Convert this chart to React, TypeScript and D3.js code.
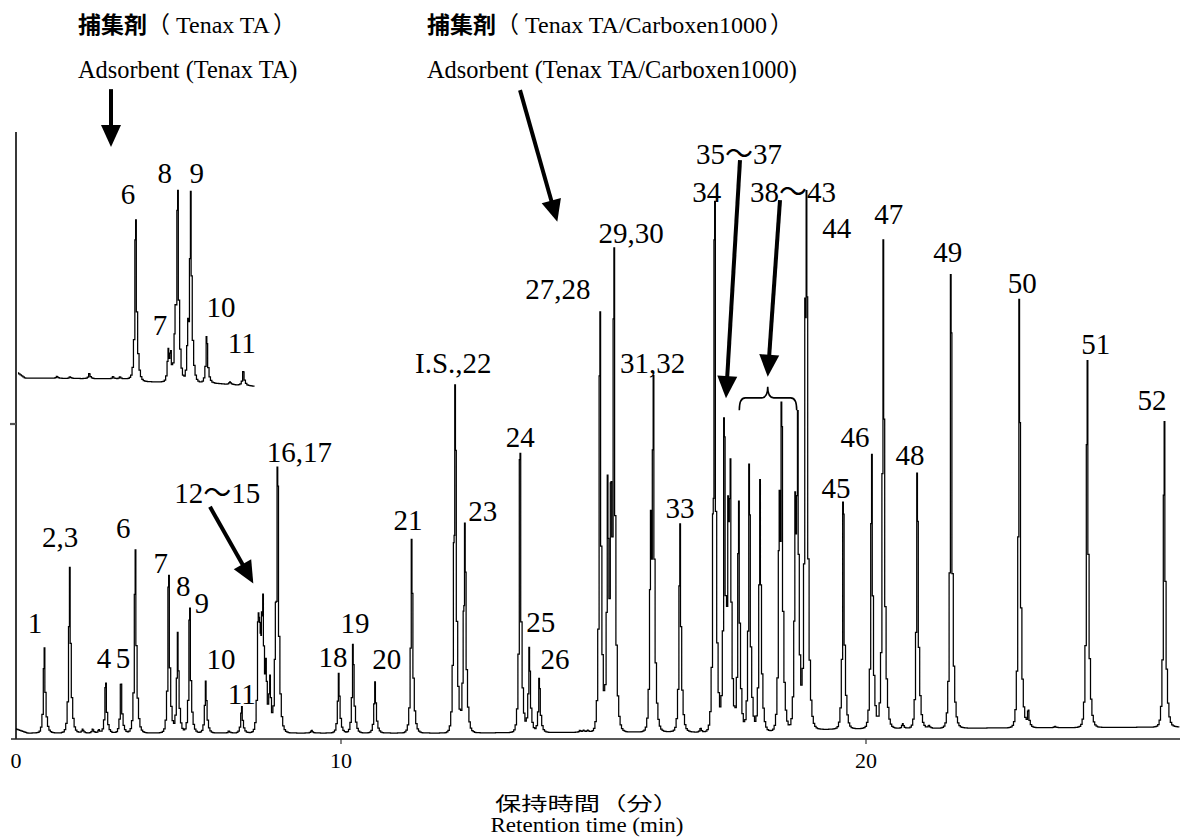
import React from "react";
import * as d3 from "d3";

const W = 1180;
const H = 838;

// axis ticks
const xTickValues = [0, 10, 20];
const xTickLabels = ["0", "10", "20"];
const yTickValues = [1];

// main chromatogram (Tenax TA/Carboxen1000): baseline knots [time(min), signal]
const mainBaseline: [number, number][] = [
  [0, 0.032], [0.35, 0.019], [12, 0.019], [16.5, 0.023], [17.5, 0.018],
  [19, 0.03], [20, 0.033], [26, 0.038],
];

// main peaks [retention time (min), height above baseline]
const mainPeaks: [number, number][] = [
  [0.871, 0.27], [1.652, 0.526], [2.76, 0.158], [3.231, 0.155], [3.671, 0.581],
  [4.698, 0.5], [4.975, 0.317], [5.345, 0.396], [5.837, 0.165], [6.945, 0.084],
  [7.455, 0.3], [7.492, 0.17], [7.53, 0.08], [7.565, 0.17], [7.6, 0.3], [7.692, 0.17], [7.815, 0.16],
  [7.99, 0.28], [8.052, 0.77],
  [9.098, 0.008], [9.929, 0.189], [10.229, 0.281], [10.648, 0.162], [11.347, 0.615],
  [12.152, 0.3], [12.177, 0.98], [12.337, 0.2], [12.362, 0.58],
  [13.41, 0.886], [13.587, 0.267], [13.777, 0.171],
  [14.933, 1.332], [15.08, 0.76], [15.143, 0.6], [15.2, 1.44],
  [15.899, 0.6], [15.949, 1.026], [16.457, 0.66],
  [17.091, 0.3], [17.118, 1.57],
  [17.301, 0.97], [17.377, 0.56], [17.415, 0.7], [17.575, 0.73],
  [17.777, 0.85], [17.981, 0.8], [18.349, 0.65], [18.394, 0.91], [18.653, 0.65], [18.699, 0.88],
  [18.844, 0.97], [18.87, 1.32],
  [19.568, 0.72], [20.109, 0.87], [20.33, 1.55], [20.977, 0.81], [21.619, 1.44],
  [22.92, 1.36], [23.091, 0.05], [24.215, 1.165], [25.682, 0.97],
  [2.05, 0.012], [2.36, 0.012], [2.55, 0.01], [6.55, 0.006], [14.55, 0.006],
  [14.62, 0.006], [14.7, 0.006], [16.85, 0.012], [20.7, 0.015], [21.2, 0.008], [23.6, 0.004],
];

// inset chromatogram (Tenax TA)
const insetBaseline: [number, number][] = [
  [0.06, 1.162], [0.28, 1.146], [3.5, 1.143], [3.8, 1.135], [4.6, 1.133], [6.0, 1.13], [7.35, 1.12],
];
const insetPeaks: [number, number][] = [
  [3.683, 0.51], [4.686, 0.097], [4.76, 0.075], [4.902, 0.17], [4.975, 0.573],
  [5.292, 0.147], [5.375, 0.582], [5.868, 0.147], [6.994, 0.044], [2.255, 0.016],
  [1.26, 0.006], [1.66, 0.005], [2.985, 0.007], [3.2, 0.006], [6.585, 0.008],
];

// peak labels [text, time, signal at text baseline]
const peakLabels: [string, number, number][] = [
  ["1", 0.585, 0.337], ["2,3", 1.354, 0.611], ["4", 2.708, 0.224], ["5", 3.292, 0.224],
  ["6", 3.302, 0.637], ["7", 4.452, 0.526], ["8", 5.148, 0.454], ["9", 5.714, 0.399],
  ["10", 6.308, 0.221], ["11", 6.945, 0.111], ["12～15", 6.194, 0.75], ["16,17", 8.723, 0.88],
  ["18", 9.754, 0.229], ["19", 10.267, 0.335], ["20", 10.87, 0.222], ["21", 11.276, 0.664],
  ["I.S.,22", 12.139, 1.163], ["23", 12.699, 0.693], ["24", 13.415, 0.928], ["25", 13.804, 0.341],
  ["26", 14.076, 0.222], ["27,28", 14.133, 1.396], ["29,30", 15.524, 1.575], ["31,32", 15.937, 1.163],
  ["33", 16.457, 0.703], ["34", 16.966, 1.706], ["35～37", 17.581, 1.825], ["38～43", 18.61, 1.706],
  ["44", 19.442, 1.59], ["45", 19.429, 0.764], ["46", 19.79, 0.928], ["47", 20.432, 1.634],
  ["48", 20.838, 0.87], ["49", 21.556, 1.515], ["50", 22.977, 1.415], ["51", 24.375, 1.221],
  ["52", 25.448, 1.046],
];
const insetLabels: [string, number, number][] = [
  ["6", 3.446, 1.698], ["7", 4.431, 1.283], ["8", 4.575, 1.764], ["9", 5.56, 1.764],
  ["10", 6.308, 1.341], ["11", 6.945, 1.224],
];

// arrows [t1, v1, t2(tip), v2(tip)]
const arrowData: [number, number, number, number][] = [
  [2.923, 2.063, 2.923, 1.879],
  [13.41, 2.06, 14.12, 1.642],
  [5.969, 0.737, 7.302, 0.494],
  [17.6, 1.838, 17.333, 1.082],
  [18.362, 1.711, 18.128, 1.15],
];
// brace [tLeft, tRight, tCenter, vBar, vEnds, vTip]
const braceData = [17.587, 18.68, 18.128, 1.083, 1.044, 1.118];

const headerCJK = "捕集剤";
const header1Name = "Tenax TA";
const header2Name = "Tenax TA/Carboxen1000";
const xTitleJa = "保持時間（分）";
const xTitleEn = "Retention time (min)";

const SERIF = "'Times New Roman', 'Liberation Serif', serif";
const CJK = "'Noto Sans CJK JP', 'Noto Sans CJK SC', sans-serif";

const x = d3.scaleLinear().domain([0, 10, 26]).range([16, 341, 1181]);
const y = d3.scaleLinear().domain([0, 1]).range([739, 424]);

function peakShape(dx: number) {
  const a = dx < 0 ? -dx : dx;
  const t1 = dx < 0 ? 1.05 : 1.4;
  const t2 = dx < 0 ? 2.0 : 2.6;
  return 0.9 * Math.exp(-a / t1) + 0.1 * Math.exp(-a / t2);
}

function buildTrace(baseline: [number, number][], peaks: [number, number][], t0: number, t1: number) {
  const base = d3
    .scaleLinear()
    .domain(baseline.map((d) => d[0]))
    .range(baseline.map((d) => d[1]))
    .clamp(true);
  const p0 = x(t0);
  const p1 = x(t1);
  const pxs = d3
    .range(p0, p1, 1.4)
    .concat(peaks.map((p) => x(p[0])).filter((v) => v > p0 && v < p1))
    .sort(d3.ascending);
  return pxs.map((px) => {
    let s = base(x.invert(px));
    for (const [t, h] of peaks) {
      s += h * peakShape(px - x(t));
    }
    return [px, s] as [number, number];
  });
}

const line = d3
  .line<[number, number]>()
  .x((d) => d[0])
  .y((d) => y(d[1]))
  .curve(d3.curveStep);

function Arrow({ d }: { d: [number, number, number, number] }) {
  const x1 = x(d[0]), y1 = y(d[1]), x2 = x(d[2]), y2 = y(d[3]);
  const len = Math.hypot(x2 - x1, y2 - y1);
  const ux = (x2 - x1) / len, uy = (y2 - y1) / len;
  const hl = 22, hw = 10;
  const bx = x2 - ux * hl, by = y2 - uy * hl;
  const pts = [
    [x2, y2],
    [bx - uy * hw, by + ux * hw],
    [bx + uy * hw, by - ux * hw],
  ];
  return (
    <g>
      <line x1={x1} y1={y1} x2={bx + ux * 2} y2={by + uy * 2} stroke="#000" strokeWidth={4} />
      <polygon points={pts.map((p) => p.join(",")).join(" ")} fill="#000" />
    </g>
  );
}

function LabelText({ text, tx, ty }: { text: string; tx: number; ty: number }) {
  const parts = text.split("～");
  return (
    <text x={tx} y={ty} textAnchor="middle" fontFamily={SERIF} fontSize={29} fill="#000">
      {parts.length === 2 ? (
        <>
          <tspan>{parts[0]}</tspan>
          <tspan fontFamily={CJK} fontSize={28}>～</tspan>
          <tspan>{parts[1]}</tspan>
        </>
      ) : (
        text
      )}
    </text>
  );
}

export default function App() {
  const mainTrace = buildTrace(mainBaseline, mainPeaks, 0, 25.98);
  const insetTrace = buildTrace(insetBaseline, insetPeaks, 0.06, 7.35);
  const [bl, br, bc, bv, be, bt] = braceData;
  const bx1 = x(bl), bx2 = x(br), bxc = x(bc), byH = y(bv), byE = y(be), byT = y(bt);
  const r = 6;
  const bracePath = `M${bx1},${byE} Q${bx1},${byH} ${bx1 + r},${byH} L${bxc - r},${byH} Q${bxc},${byH} ${bxc},${byT} Q${bxc},${byH} ${bxc + r},${byH} L${bx2 - r},${byH} Q${bx2},${byH} ${bx2},${byE}`;
  const yTop = 1.927;

  const header = (x0: number, name: string) => (
    <g>
      <text x={x0} y={33} fill="#000">
        <tspan fontFamily={CJK} fontWeight="bold" fontSize={23}>{headerCJK}</tspan>
        <tspan fontFamily={CJK} fontSize={23}>（</tspan>
        <tspan fontFamily={SERIF} fontSize={24} dx={6}>{name}</tspan>
        <tspan fontFamily={CJK} fontSize={23} dx={3}>）</tspan>
      </text>
      <text x={x0} y={78} fill="#000" fontFamily={SERIF} fontSize={24.4}>
        {`Adsorbent (${name})`}
      </text>
    </g>
  );

  return (
    <svg width={W} height={H} style={{ position: "absolute", left: 0, top: 0, background: "#fff" }}>
      <rect width={W} height={H} fill="#fff" />
      {header(78, header1Name)}
      {header(427, header2Name)}

      {/* axes */}
      <line x1={x(0)} x2={x(0)} y1={y(yTop)} y2={y(0)} stroke="#222" strokeWidth={1.8} />
      {yTickValues.map((v) => (
        <line key={v} x1={x(0) - 6} x2={x(0)} y1={y(v)} y2={y(v)} stroke="#555" strokeWidth={2.2} />
      ))}
      <line x1={11} x2={W} y1={y(0)} y2={y(0)} stroke="#222" strokeWidth={1.6} />
      {xTickValues.map((t, i) => (
        <g key={t}>
          {t > 0 && <line x1={x(t)} x2={x(t)} y1={y(0)} y2={y(0) + 5} stroke="#333" strokeWidth={1.2} />}
          <text x={x(t)} y={768} textAnchor="middle" fontFamily={SERIF} fontSize={22} fill="#000">
            {xTickLabels[i]}
          </text>
        </g>
      ))}
      <text x={587} y={811} textAnchor="middle" fontFamily={CJK} fontSize={19} textLength={184} lengthAdjust="spacingAndGlyphs" fill="#000">
        {xTitleJa}
      </text>
      <text x={587} y={832} textAnchor="middle" fontFamily={SERIF} fontSize={20} textLength={193} lengthAdjust="spacingAndGlyphs" fill="#000">
        {xTitleEn}
      </text>

      {/* traces */}
      <path d={line(insetTrace) || ""} fill="none" stroke="#000" strokeWidth={1.25} />
      <path d={line(mainTrace) || ""} fill="none" stroke="#000" strokeWidth={1.25} />

      {/* labels */}
      {peakLabels.map(([t, tt, vv]) => (
        <LabelText key={t} text={t} tx={x(tt)} ty={y(vv)} />
      ))}
      {insetLabels.map(([t, tt, vv]) => (
        <LabelText key={"i" + t} text={t} tx={x(tt)} ty={y(vv)} />
      ))}

      {/* annotations */}
      {arrowData.map((d, i) => (
        <Arrow key={i} d={d} />
      ))}
      <path d={bracePath} fill="none" stroke="#000" strokeWidth={1.6} />
    </svg>
  );
}
